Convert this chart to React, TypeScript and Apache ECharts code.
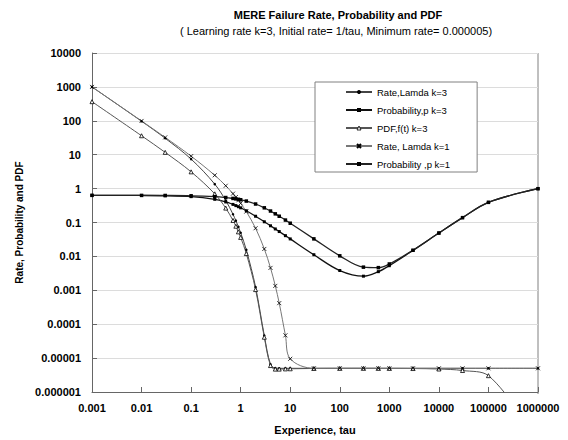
import React, { useEffect, useRef } from "react";
import * as echarts from "echarts";

const titleText = "MERE Failure Rate, Probability and PDF";
const subtitleText = "( Learning rate k=3, Initial rate= 1/tau, Minimum rate= 0.000005)";
const xAxisName = "Experience, tau";
const yAxisName = "Rate, Probability and PDF";

const xTickLabels = ["0.001", "0.01", "0.1", "1", "10", "100", "1000", "10000", "100000", "1000000"];
const yTickLabels = ["0.000001", "0.00001", "0.0001", "0.001", "0.01", "0.1", "1", "10", "100", "1000", "10000"];

const seriesNames = [
  "Rate,Lamda k=3",
  "Probability,p k=3",
  "PDF,f(t) k=3",
  "Rate, Lamda k=1",
  "Probability ,p k=1",
];

const tau = [0.001, 0.01, 0.03, 0.1, 0.3, 0.5, 0.7, 0.8, 0.9, 1, 1.3, 2, 3, 4, 5, 6, 8, 10, 30, 100, 300, 600, 1000, 3000, 10000, 30000, 100000, 1000000];

const rateK3 = [997, 97.0, 30.5, 7.41, 1.355, 0.446, 0.175, 0.113, 0.0747, 0.0498, 0.0156, 0.00124, 0.0000461, 0.00000654, 0.00000506, 0.000005, 0.000005, 0.000005, 0.000005, 0.000005, 0.000005, 0.000005, 0.000005, 0.000005, 0.000005, 0.000005, 0.000005, 0.000005];

const probK3 = [0.632, 0.627, 0.616, 0.579, 0.483, 0.404, 0.342, 0.315, 0.292, 0.271, 0.222, 0.153, 0.105, 0.080, 0.0645, 0.0541, 0.0409, 0.0328, 0.0112, 0.00383, 0.00261, 0.00355, 0.00532, 0.0150, 0.0488, 0.139, 0.393, 0.993];

const pdfK3 = [367, 36.2, 11.7, 3.12, 0.701, 0.266, 0.115, 0.0776, 0.0529, 0.0363, 0.0121, 0.00105, 0.0000413, 0.00000602, 0.00000473, 0.00000473, 0.0000048, 0.00000484, 0.00000494, 0.00000498, 0.00000499, 0.00000498, 0.00000497, 0.00000492, 0.00000476, 0.0000043, 0.00000303, 0.0000000337];

const rateK1 = [999, 99.0, 32.4, 9.05, 2.47, 1.213, 0.709, 0.562, 0.452, 0.368, 0.210, 0.0677, 0.0166, 0.00458, 0.00135, 0.000418, 0.0000469, 0.00000954, 0.000005, 0.000005, 0.000005, 0.000005, 0.000005, 0.000005, 0.000005, 0.000005, 0.000005, 0.000005];

const probK1 = [0.632, 0.630, 0.627, 0.614, 0.579, 0.545, 0.513, 0.498, 0.483, 0.469, 0.429, 0.351, 0.271, 0.218, 0.180, 0.153, 0.118, 0.0952, 0.0329, 0.0104, 0.00482, 0.00466, 0.00598, 0.0152, 0.0489, 0.139, 0.393, 0.993];

const FONT = "'Liberation Sans', Arial, sans-serif";

function pairs(ys: number[]) {
  return tau.map((t, i) => [t, ys[i]]);
}

export default function App() {
  const ref = useRef<HTMLDivElement>(null);
  useEffect(() => {
    if (!ref.current) return;
    const chart = echarts.init(ref.current, undefined, { renderer: "svg" });
    const xSym = "path://M0,0L10,10M10,0L0,10";
    const option: any = {
      animation: false,
      backgroundColor: "#ffffff",
      graphic: [
        {
          type: "text",
          x: 338,
          y: 15,
          style: { text: titleText, font: `bold 11px ${FONT}`, fill: "#000", align: "center", verticalAlign: "middle" },
        },
        {
          type: "text",
          x: 336,
          y: 31,
          style: { text: subtitleText, font: `11px ${FONT}`, fill: "#000", align: "center", verticalAlign: "middle" },
        },
        {
          type: "line",
          shape: { x1: 538, y1: 53, x2: 538, y2: 394 },
          style: { stroke: "#808080", lineWidth: 1 },
        },
      ],
      grid: { left: 92, right: 30, top: 53, bottom: 46, containLabel: false },
      legend: {
        orient: "vertical",
        left: 315,
        top: 82,
        padding: [4, 27, 2, 30],
        itemGap: 6,
        itemWidth: 26,
        itemHeight: 5,
        backgroundColor: "#fff",
        borderColor: "#808080",
        borderWidth: 1,
        borderRadius: 0,
        data: [
          { name: seriesNames[0] },
          { name: seriesNames[1] },
          { name: seriesNames[2], itemStyle: { color: "#fff", borderColor: "#000", borderWidth: 0.8 } },
          { name: seriesNames[3] },
          { name: seriesNames[4] },
        ],
        textStyle: { fontFamily: FONT, fontSize: 9.5, color: "#000", lineHeight: 12 },
      },
      xAxis: {
        type: "log",
        logBase: 10,
        min: 0.001,
        max: 1000000,
        interval: 1,
        name: xAxisName,
        nameLocation: "middle",
        nameGap: 32,
        nameTextStyle: { fontFamily: FONT, fontSize: 11, fontWeight: "bold", color: "#000" },
        axisLine: { show: true, lineStyle: { color: "#666", width: 1 } },
        axisTick: { show: true, inside: true, length: 5, lineStyle: { color: "#666" } },
        axisLabel: {
          fontFamily: FONT,
          fontSize: 11,
          fontWeight: "bold",
          color: "#000",
          margin: 10,
          formatter: (v: number) => xTickLabels[Math.round(Math.log10(v)) + 3],
        },
        splitLine: { show: false },
        minorTick: { show: false },
      },
      yAxis: {
        type: "log",
        logBase: 10,
        min: 0.000001,
        max: 10000,
        interval: 1,
        name: yAxisName,
        nameLocation: "middle",
        nameGap: 64,
        nameTextStyle: { fontFamily: FONT, fontSize: 10, fontWeight: "bold", color: "#000" },
        axisLine: { show: true, lineStyle: { color: "#666", width: 1 } },
        axisTick: { show: true, inside: true, length: 5, lineStyle: { color: "#666" } },
        axisLabel: {
          fontFamily: FONT,
          fontSize: 11,
          fontWeight: "bold",
          color: "#000",
          margin: 11,
          formatter: (v: number) => yTickLabels[Math.round(Math.log10(v)) + 6],
        },
        splitLine: { show: true, lineStyle: { color: "#dcdcdc", width: 1 } },
        minorTick: { show: false },
      },
      series: [
        {
          name: seriesNames[0],
          type: "line",
          data: pairs(rateK3),
          smooth: 0.35,
          clip: true,
          showAllSymbol: true,
          symbol: "circle",
          symbolSize: 2.5,
          itemStyle: { color: "#000" },
          lineStyle: { color: "#444", width: 1 },
        },
        {
          name: seriesNames[1],
          type: "line",
          data: pairs(probK3),
          smooth: 0.35,
          clip: true,
          showAllSymbol: true,
          symbol: "rect",
          symbolSize: 3,
          itemStyle: { color: "#000" },
          lineStyle: { color: "#111", width: 1.3 },
        },
        {
          name: seriesNames[2],
          type: "line",
          data: pairs(pdfK3),
          smooth: 0.35,
          clip: true,
          showAllSymbol: true,
          symbol: "triangle",
          symbolSize: 4,
          itemStyle: { color: "#fff", borderColor: "#000", borderWidth: 0.8 },
          lineStyle: { color: "#555", width: 1 },
        },
        {
          name: seriesNames[3],
          type: "line",
          data: pairs(rateK1),
          smooth: 0.35,
          clip: true,
          showAllSymbol: true,
          symbol: xSym,
          symbolSize: 4,
          itemStyle: { color: "#000", borderColor: "#000", borderWidth: 0.8 },
          lineStyle: { color: "#777", width: 1 },
        },
        {
          name: seriesNames[4],
          type: "line",
          data: pairs(probK1),
          smooth: 0.35,
          clip: true,
          showAllSymbol: true,
          symbol: "rect",
          symbolSize: 3.5,
          itemStyle: { color: "#000" },
          lineStyle: { color: "#222", width: 1.3 },
        },
      ],
    };
    chart.setOption(option);
    return () => chart.dispose();
  }, []);
  return (
    <div
      ref={ref}
      style={{ position: "fixed", left: 0, top: 0, width: 568, height: 440 }}
    />
  );
}
